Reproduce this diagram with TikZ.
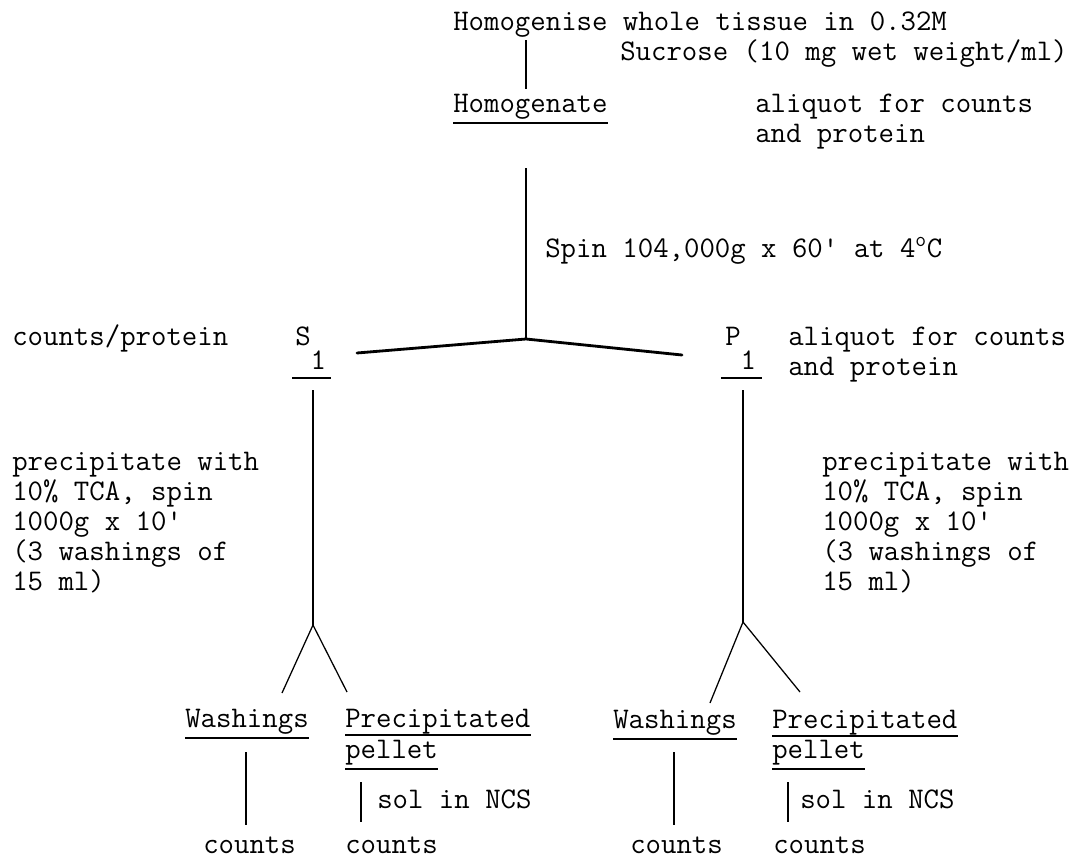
\documentclass[tikz,border=0pt]{standalone}
\usepackage{fontspec}
\newcommand{\ulnode}[2][0.275cm]{\draw[uline] ([yshift=-#1]#2.base west) -- ([yshift=-#1]#2.base east);}
\begin{document}
\begin{tikzpicture}[x=0.025cm,y=-0.025cm,
  txt/.style={anchor=base west,inner sep=0pt,font=\ttfamily\fontsize{21.3}{30}\selectfont},
  stem/.style={line width=0.9pt},
  fork/.style={line width=2pt,line cap=round},
  uline/.style={line width=1.1pt}]
\useasboundingbox (0,0) rectangle (1088,862);

% homogenate
\node[txt] (hom) at (453,30) {Homogenise whole tissue in 0.32M};
\node[txt] (suc) at (620,60) {Sucrose (10 mg wet weight/ml)};
\node[txt] (hmg) at (453,112) {Homogenate};
\node[txt] (alq) at (755,112) {aliquot for counts};
\node[txt] (alqb) at (755,142) {and protein};
\ulnode{hmg}
\coordinate (h1) at (526,40);
\coordinate (h2) at (526,89);
\draw[stem] (h1) -- (h2);

% spin
\coordinate (c1) at (526,168);
\coordinate (c0) at (526,339);
\node[txt] (spin) at (545,257) {Spin 104,000g x 60' at 4\textsuperscript{o}C};
\draw[stem] (c1) -- (c0);
\coordinate (sl) at (357,353);
\coordinate (sr) at (682,355);
\draw[fork] (sl) -- (c0) -- (sr);

% S1 and P1
\node[txt] (cp) at (12,345) {counts/protein};
\node[txt] (s1) at (295,345) {S\raisebox{-0.6cm}{1}};
\node[txt] (p1) at (725,345) {P\raisebox{-0.6cm}{1}};
\node[txt] (alp) at (788,345) {aliquot for counts};
\node[txt] (alpb) at (788,375) {and protein};
\draw[uline] ([xshift=-2,yshift=-0.825cm]s1.base west) -- ([xshift=3,yshift=-0.825cm]s1.base east);
\draw[uline] ([xshift=-3,yshift=-0.825cm]p1.base west) -- ([xshift=4,yshift=-0.825cm]p1.base east);

% precipitation text
\foreach \t [count=\i] in {precipitate with,{10\% TCA, spin},{1000g x 10'},{(3 washings of},{15 ml)}}{
  \node[txt] (pl\i) at (12,440+30*\i) {\t};
  \node[txt] (pr\i) at (822,440+30*\i) {\t};
}

% left branch
\coordinate (l1) at (313,390);
\coordinate (l0) at (313,625);
\coordinate (la) at (282,693);
\coordinate (lb) at (347,692);
\draw[stem] (l1) -- (l0);
\draw[stem] (la) -- (l0) -- (lb);
\node[txt] (lw) at (185,727) {Washings};
\node[txt] (lp) at (345,727) {Precipitated};
\node[txt] (lpp) at (345,758) {pellet};
\ulnode{lw} \ulnode[0.2cm]{lp} \ulnode{lpp}
\coordinate (lw1) at (246,752);
\coordinate (lw2) at (246,825);
\coordinate (lp1) at (361,782);
\coordinate (lp2) at (361,822);
\draw[stem] (lw1) -- (lw2);
\draw[stem] (lp1) -- (lp2);
\node[txt] (lsol) at (377,808) {sol in NCS};
\node[txt] (lc1) at (203,853) {counts};
\node[txt] (lc2) at (345,853) {counts};

% right branch
\coordinate (r1) at (743,390);
\coordinate (r0) at (743,622);
\coordinate (ra) at (710,703);
\coordinate (rb) at (800,692);
\draw[stem] (r1) -- (r0);
\draw[stem] (ra) -- (r0) -- (rb);
\node[txt] (rw) at (613,728) {Washings};
\node[txt] (rp) at (772,728) {Precipitated};
\node[txt] (rpp) at (772,758) {pellet};
\ulnode{rw} \ulnode[0.2cm]{rp} \ulnode{rpp}
\coordinate (rw1) at (674,752);
\coordinate (rw2) at (674,825);
\coordinate (rp1) at (788,782);
\coordinate (rp2) at (788,822);
\draw[stem] (rw1) -- (rw2);
\draw[stem] (rp1) -- (rp2);
\node[txt] (rsol) at (800,808) {sol in NCS};
\node[txt] (rc1) at (630,853) {counts};
\node[txt] (rc2) at (773,853) {counts};
\end{tikzpicture}
\end{document}
